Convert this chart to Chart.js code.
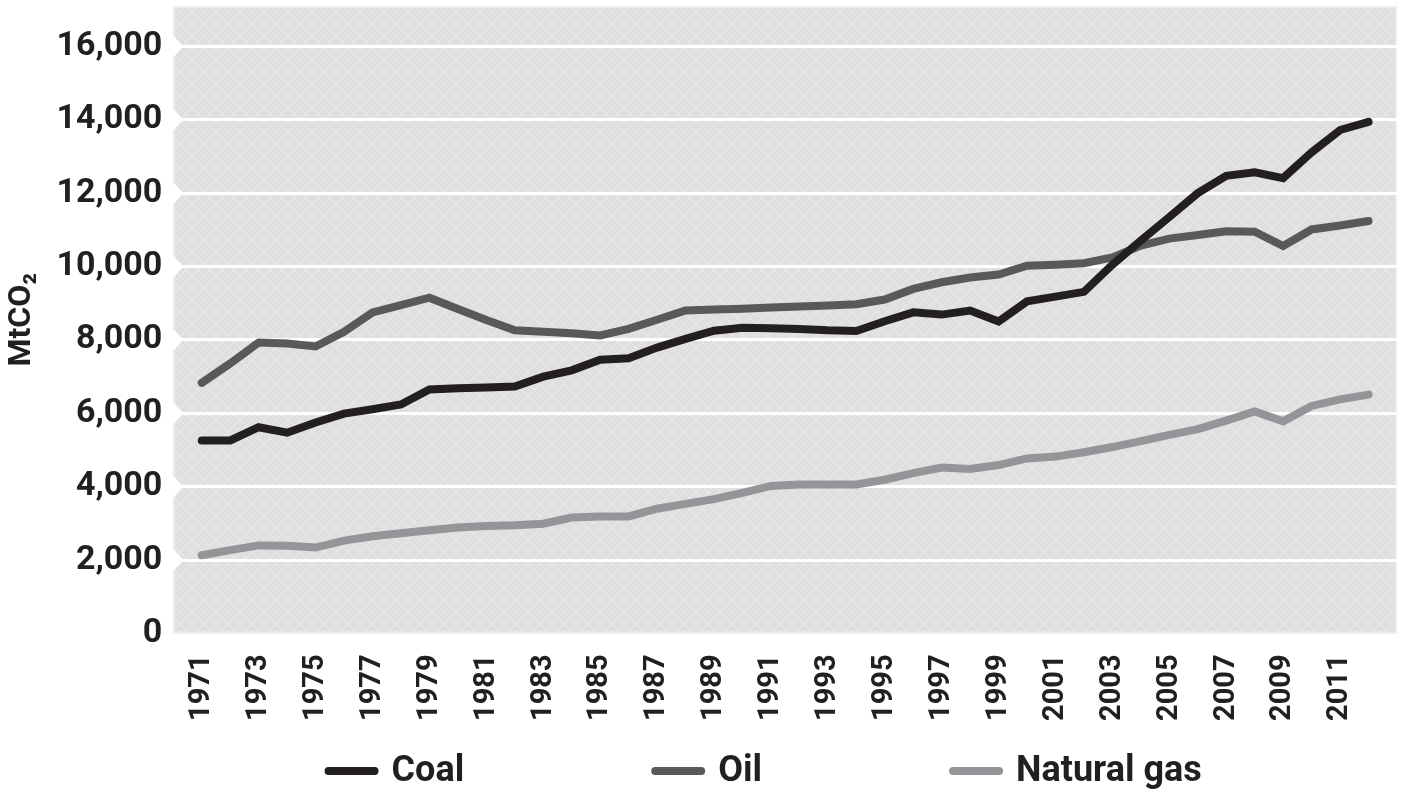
<!DOCTYPE html>
<html>
<head>
<meta charset="utf-8">
<script src="https://cdn.jsdelivr.net/npm/chart.js@4.4.1/dist/chart.umd.min.js"></script>
<style>
  html, body { margin: 0; padding: 0; background: #fff; }
  #wrap { width: 1401px; height: 789px; position: relative; }
</style>
</head>
<body>
<div id="wrap"><canvas id="grafico"></canvas></div>
<script>
// ======= Dados =======
const anos = [1971,1972,1973,1974,1975,1976,1977,1978,1979,1980,
              1981,1982,1983,1984,1985,1986,1987,1988,1989,1990,
              1991,1992,1993,1994,1995,1996,1997,1998,1999,2000,
              2001,2002,2003,2004,2005,2006,2007,2008,2009,2010,
              2011,2012];
const carvao = [5260,5260,5620,5470,5750,5990,6110,6240,6650,6680,
                6700,6730,7000,7170,7460,7500,7790,8030,8250,8330,
                8320,8300,8260,8240,8510,8750,8690,8800,8500,9050,
                9180,9310,10050,10710,11350,12000,12470,12570,12410,13110,
                13720,13940];
const petroleo = [6830,7360,7930,7900,7820,8220,8750,8950,9150,8840,
                  8540,8260,8220,8180,8120,8300,8550,8800,8830,8850,
                  8880,8910,8940,8970,9100,9390,9570,9700,9780,10020,
                  10050,10090,10250,10570,10760,10860,10960,10950,10560,11010,
                  11120,11240];
const gas = [2130,2270,2400,2390,2340,2530,2650,2730,2810,2890,
             2930,2950,2990,3160,3190,3190,3400,3530,3660,3830,
             4020,4060,4060,4060,4190,4370,4520,4480,4590,4770,
             4820,4940,5080,5240,5410,5570,5800,6050,5780,6200,
             6380,6510];
const rotulosX = [1971,1973,1975,1977,1979,1981,1983,1985,1987,1989,1991,
                  1993,1995,1997,1999,2001,2003,2005,2007,2009,2011];
const rotulosY = [0,2000,4000,6000,8000,10000,12000,14000,16000];
const series = ['Coal', 'Oil', 'Natural gas'];

const FONTE = 'Roboto, "Open Sans", sans-serif';
const PRETO = '#231f20';

// ======= Fundo quadriculado da área do gráfico =======
function criaPadrao(ctx) {
  const c = document.createElement('canvas');
  c.width = 12; c.height = 12;
  const g = c.getContext('2d');
  g.fillStyle = '#dfdfdf';
  g.fillRect(0, 0, 12, 12);
  g.strokeStyle = '#e9e9e9';
  g.lineWidth = 1;
  g.beginPath();
  g.moveTo(0, 0); g.lineTo(12, 12);
  g.moveTo(12, 0); g.lineTo(0, 12);
  g.stroke();
  return ctx.createPattern(c, 'repeat');
}

const fundoPlugin = {
  id: 'fundo',
  beforeDraw(chart) {
    const {ctx, chartArea: a} = chart;
    ctx.save();
    ctx.fillStyle = criaPadrao(ctx);
    ctx.fillRect(a.left, a.top, a.width, a.height);
    ctx.strokeStyle = '#ececec';
    ctx.lineWidth = 2;
    ctx.strokeRect(a.left + 1, a.top + 1, a.width - 2, a.height - 2);
    ctx.restore();
  },
  // entalhes brancos na borda esquerda, em cada linha de grade
  beforeDatasetsDraw(chart) {
    const {ctx, chartArea: a, scales: {y}} = chart;
    ctx.save();
    ctx.fillStyle = '#fff';
    rotulosY.forEach(v => {
      if (v === 0) return;
      const py = y.getPixelForValue(v);
      ctx.beginPath();
      ctx.moveTo(a.left - 1, py - 12);
      ctx.lineTo(a.left + 10, py);
      ctx.lineTo(a.left - 1, py + 12);
      ctx.closePath();
      ctx.fill();
    });
    ctx.restore();
  }
};

// ======= Legenda desenhada na base =======
const legendaPlugin = {
  id: 'legenda',
  afterDraw(chart) {
    const {ctx, chartArea: a} = chart;
    const linha = 46, espacoTexto = 17, espaco = 183;
    const y = chart.height - 18;
    ctx.save();
    ctx.font = 'bold 36px ' + FONTE;
    ctx.textBaseline = 'middle';
    const itens = chart.data.datasets.map(ds => ({
      ds, w: linha + 8 + espacoTexto + ctx.measureText(ds.label).width
    }));
    const total = itens.reduce((s, it) => s + it.w, 0) + espaco * (itens.length - 1);
    let x = (a.left + a.right) / 2 - 20 - total / 2;
    itens.forEach(it => {
      ctx.strokeStyle = it.ds.borderColor;
      ctx.lineWidth = 8;
      ctx.lineCap = 'round';
      ctx.beginPath();
      ctx.moveTo(x + 4, y);
      ctx.lineTo(x + 4 + linha, y);
      ctx.stroke();
      ctx.fillStyle = PRETO;
      ctx.fillText(it.ds.label, x + linha + 8 + espacoTexto - 4, y + 1);
      x += it.w + espaco;
    });
    ctx.restore();
  }
};

// ======= Gráfico =======
const cores = [PRETO, '#58595b', '#939598'];
const valores = [carvao, petroleo, gas];

new Chart(document.getElementById('grafico'), {
  type: 'line',
  data: {
    datasets: series.map((nome, i) => ({
      label: nome,
      data: anos.map((a, k) => ({x: a, y: valores[i][k]})),
      borderColor: cores[i],
      backgroundColor: cores[i],
      borderWidth: 8,
      borderCapStyle: 'round',
      borderJoinStyle: 'miter',
      pointRadius: 0,
      tension: 0,
      fill: false
    }))
  },
  options: {
    responsive: true,
    maintainAspectRatio: false,
    animation: false,
    layout: { padding: { left: 3, right: 4, top: 6, bottom: 47 } },
    plugins: {
      legend: { display: false },
      tooltip: { enabled: false }
    },
    scales: {
      x: {
        type: 'linear',
        min: 1970,
        max: 2013,
        afterBuildTicks: s => { s.ticks = rotulosX.map(v => ({value: v})); },
        afterFit: s => { s.paddingLeft = 0; s.paddingRight = 0; },
        grid: { display: false, drawTicks: false },
        border: { display: false },
        ticks: {
          autoSkip: false,
          minRotation: 90,
          maxRotation: 90,
          padding: 21,
          color: PRETO,
          font: { family: FONTE, size: 29, weight: 'bold' },
          callback: v => String(v)
        }
      },
      y: {
        min: 0,
        max: 17100,
        afterBuildTicks: s => { s.ticks = rotulosY.map(v => ({value: v})); },
        afterFit: s => { s.paddingTop = 0; s.paddingBottom = 0; },
        grid: {
          drawTicks: false,
          color: c => c.tick && c.tick.value === 0 ? 'rgba(0,0,0,0)' : '#ffffff',
          lineWidth: 3
        },
        border: { display: false },
        ticks: {
          padding: 11,
          color: PRETO,
          font: { family: FONTE, size: 34, weight: 'bold' },
          callback: v => v.toLocaleString('en-US')
        },
        title: {
          display: true,
          text: 'MtCO₂',
          color: PRETO,
          font: { family: FONTE, size: 32, weight: 'bold' },
          padding: { top: 0, bottom: 4 }
        }
      }
    }
  },
  plugins: [fundoPlugin, legendaPlugin]
});
</script>
</body>
</html>
